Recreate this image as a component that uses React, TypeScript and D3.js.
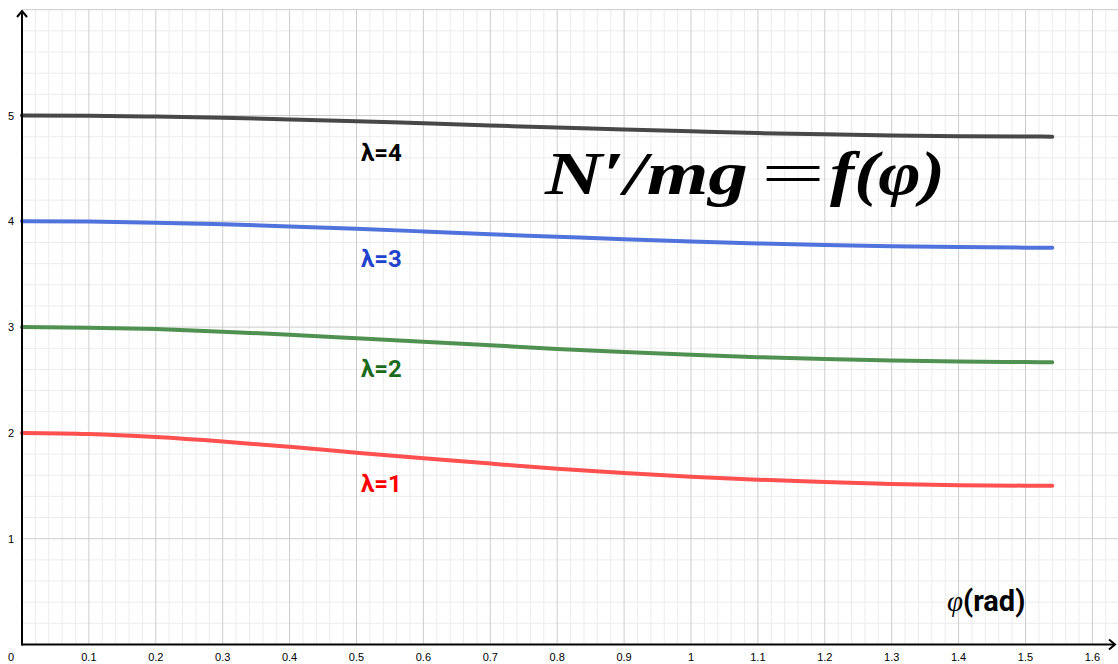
import React from 'react';
import * as d3 from 'd3';

// φ (rad) sample positions
const phiValues = [0, 0.1, 0.2, 0.3, 0.4, 0.5, 0.6, 0.7, 0.8, 0.9, 1.0, 1.1, 1.2, 1.3, 1.4, 1.5, 1.54];
// N'/mg
const lambda1 = [2.0, 1.99, 1.961, 1.919, 1.868, 1.813, 1.760, 1.710, 1.662, 1.621, 1.586, 1.558, 1.535, 1.518, 1.506, 1.501, 1.5];
const lambda2 = [3.0, 2.995, 2.981, 2.957, 2.928, 2.895, 2.861, 2.828, 2.794, 2.765, 2.739, 2.716, 2.698, 2.684, 2.674, 2.669, 2.667];
const lambda3 = [4.0, 3.997, 3.987, 3.972, 3.952, 3.929, 3.904, 3.878, 3.854, 3.830, 3.809, 3.791, 3.776, 3.764, 3.756, 3.751, 3.75];
const lambda4 = [5.0, 4.998, 4.990, 4.979, 4.963, 4.946, 4.926, 4.906, 4.886, 4.867, 4.850, 4.834, 4.822, 4.812, 4.805, 4.801, 4.8];

const seriesNames = ['λ=1', 'λ=2', 'λ=3', 'λ=4'];
const seriesData = [lambda1, lambda2, lambda3, lambda4];
const lineColors = ['#ff5050', '#4f9150', '#5072dc', '#484848'];
const labelColors = ['#ff0000', '#1c6b1c', '#1f43cc', '#000000'];
const labelY = [492, 377, 267, 161];

const xTickLabels = ['0.1', '0.2', '0.3', '0.4', '0.5', '0.6', '0.7', '0.8', '0.9', '1', '1.1', '1.2', '1.3', '1.4', '1.5', '1.6'];
const xTickValues = [0.1, 0.2, 0.3, 0.4, 0.5, 0.6, 0.7, 0.8, 0.9, 1.0, 1.1, 1.2, 1.3, 1.4, 1.5, 1.6];
const yTickValues = [1, 2, 3, 4, 5];

export default function App() {
  const W = 1118;
  const H = 664;
  const x0 = 22;
  const y0 = 644.5;
  const x = d3.scaleLinear().domain([0, 1.6]).range([x0, x0 + 669 * 1.6]);
  const y = d3.scaleLinear().domain([0, 6]).range([y0, y0 - 105.8 * 6]);

  const minorX = d3.range(1, 82).map((i) => i * 0.02).filter((v) => Math.round(v * 100) % 10 !== 0);
  const minorY = d3.range(1, 31).map((i) => i * 0.2).filter((v) => Math.round(v * 10) % 10 !== 0);
  const majorY = [1, 2, 3, 4, 5, 6];

  const line = d3
    .line<number>()
    .x((_, i) => x(phiValues[i]))
    .y((d) => y(d))
    .curve(d3.curveMonotoneX);

  const yTop = y(6);
  const serif = "'Liberation Serif', 'DejaVu Serif', serif";

  return (
    <svg
      width={W}
      height={H}
      style={{ position: 'absolute', left: 0, top: 0, background: '#fff' }}
      fontFamily="'Liberation Sans', Arial, sans-serif"
    >
      <rect x={0} y={0} width={W} height={H} fill="#fff" />
      {/* minor grid */}
      {minorX.map((v, i) => (
        <line key={'mx' + i} x1={x(v)} x2={x(v)} y1={y0} y2={yTop} stroke="#ececec" strokeWidth={1} />
      ))}
      {minorY.map((v, i) => (
        <line key={'my' + i} x1={x0} x2={W} y1={y(v)} y2={y(v)} stroke="#ececec" strokeWidth={1} />
      ))}
      {/* major grid */}
      {xTickValues.map((v, i) => (
        <line key={'Mx' + i} x1={x(v)} x2={x(v)} y1={y0} y2={yTop} stroke="#cdcdcd" strokeWidth={1} />
      ))}
      {majorY.map((v, i) => (
        <line key={'My' + i} x1={x0} x2={W} y1={y(v)} y2={y(v)} stroke="#cdcdcd" strokeWidth={1} />
      ))}

      {/* curves */}
      {seriesData.map((s, i) => (
        <path
          key={'c' + i}
          d={line(s) || ''}
          fill="none"
          stroke={lineColors[i]}
          strokeWidth={4}
          strokeLinecap="round"
          strokeLinejoin="round"
        />
      ))}

      {/* axes */}
      <line x1={x0} x2={W - 3} y1={y0} y2={y0} stroke="#000" strokeWidth={2} />
      <line x1={x0} x2={x0} y1={y0 + 1} y2={11} stroke="#000" strokeWidth={2} />
      <path d={`M ${x0 - 5} ${17} L ${x0} ${11} L ${x0 + 5} ${17}`} fill="none" stroke="#000" strokeWidth={2} strokeLinejoin="miter" />
      <path d={`M ${W - 9} ${y0 - 5} L ${W - 3} ${y0} L ${W - 9} ${y0 + 5}`} fill="none" stroke="#000" strokeWidth={2} />

      {/* tick labels */}
      {xTickValues.map((v, i) => (
        <text key={'xt' + i} x={x(v)} y={661} fontSize={11} textAnchor="middle" fill="#000">
          {xTickLabels[i]}
        </text>
      ))}
      <text x={11} y={661} fontSize={11} textAnchor="middle" fill="#000">0</text>
      {yTickValues.map((v, i) => (
        <text key={'yt' + i} x={11} y={y(v) + 4} fontSize={11} textAnchor="middle" fill="#000">
          {String(v)}
        </text>
      ))}

      {/* series labels */}
      {seriesNames.map((n, i) => (
        <text
          key={'l' + i}
          x={361}
          y={labelY[i]}
          fontSize={24}
          fontWeight="bold"
          fill={labelColors[i]}
          fontFamily="Roboto, 'Liberation Sans', sans-serif"
        >
          {n}
        </text>
      ))}

      {/* title */}
      <g fontSize={62} fontWeight="bold" fontStyle="italic" fill="#000" fontFamily={serif}>
        <text x={545} y={194} textLength={203} lengthAdjust="spacingAndGlyphs">N′/mg</text>
        <text x={761} y={194} fontStyle="normal" fontWeight="normal" textLength={64} lengthAdjust="spacingAndGlyphs">=</text>
        <text x={830} y={194} textLength={115} lengthAdjust="spacingAndGlyphs">f(φ)</text>
      </g>

      {/* x axis title */}
      <text x={947} y={611} fontSize={29} fill="#000">
        <tspan fontStyle="italic" fontFamily={serif}>φ</tspan>
        <tspan fontWeight="bold" fontFamily="Roboto, 'Liberation Sans', sans-serif">(rad)</tspan>
      </text>
    </svg>
  );
}
